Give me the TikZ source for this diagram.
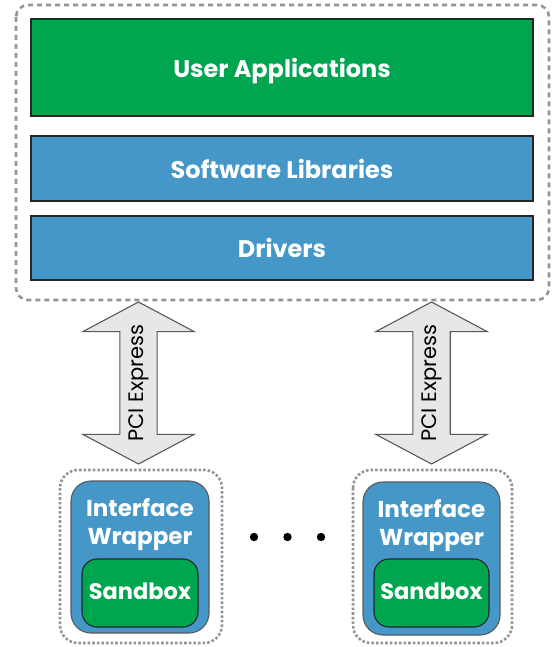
\documentclass[tikz,border=0pt]{standalone}
\usepackage{fontspec}
\setmainfont{Poppins}
\usetikzlibrary{shapes.arrows}

\definecolor{appgreen}{RGB}{0,165,80}
\definecolor{libblue}{RGB}{69,151,200}
\definecolor{pciefill}{RGB}{230,231,232}
\definecolor{pcieline}{RGB}{88,89,91}
\definecolor{hostgray}{RGB}{147,149,152}

\tikzset{
  layer/.style={draw=black!85, line width=1.2pt, text=white,
    font=\fontsize{24}{28}\bfseries, minimum width=502pt, inner sep=0pt,
    text height=19.8pt, text depth=0pt},
  pcie/.style={shape=double arrow, rotate=90, fill=pciefill, draw=pcieline,
    line width=1.1pt, double arrow head extend=37pt, double arrow tip angle=124,
    minimum height=162pt, inner xsep=0pt, inner ysep=8pt,
    font=\fontsize{21}{24}\selectfont},
  wrapper/.style={draw=pcieline, fill=libblue, line width=1.1pt,
    rounded corners=20pt, inner sep=0pt},
  sandbox/.style={draw=black!85, fill=appgreen, line width=1.1pt,
    rounded corners=15pt, text=white, font=\fontsize{22.5}{26}\bfseries, inner sep=0pt,
    text height=13pt, text depth=0pt},
  boxtext/.style={text=white, align=center, font=\fontsize{23}{27.5}\bfseries},
  fpga/.style={draw=hostgray, line width=2.6pt, dotted, rounded corners=18pt},
  host/.style={draw=hostgray, line width=2.6pt, dash pattern=on 5pt off 4pt,
    rounded corners=12pt}
}

\begin{document}
\begin{tikzpicture}[x=1pt, y=-1pt]
  \useasboundingbox (0,0) rectangle (551,647);

  % host side
  \draw[host] (16,5) rectangle (549,300);
  \node[layer, fill=appgreen, minimum height=97pt] (apps) at (282,67.5) {User Applications};
  \node[layer, fill=libblue, minimum height=65pt] (libs) at (282,168.5) {Software Libraries};
  \node[layer, fill=libblue, minimum height=64pt] (drv) at (282,248) {Drivers};

  % links
  \node[pcie] (linkA) at (138.5,383) {PCI Express};
  \node[pcie] (linkB) at (431.5,383) {PCI Express};

  % fpga side
  \draw[fpga] (60,470) rectangle (222,643);
  \draw[fpga] (353,470) rectangle (512,643);

  \node[wrapper, minimum width=138pt, minimum height=152pt] (wrapA) at (140,557) {};
  \node[wrapper, minimum width=137pt, minimum height=153pt] (wrapB) at (431.5,558.5) {};

  \node[boxtext] (wtxtA) at (140,524.7) {Interface\\Wrapper};
  \node[boxtext] (wtxtB) at (431.5,525.3) {Interface\\Wrapper};

  \node[sandbox, minimum width=116pt, minimum height=68pt] (sbA) at (140,593) {Sandbox};
  \node[sandbox, minimum width=115pt, minimum height=68pt] (sbB) at (431.5,593) {Sandbox};

  \fill (254,537) circle (4.2pt);
  \fill (287.5,537) circle (4.2pt);
  \fill (321,537) circle (4.2pt);
\end{tikzpicture}
\end{document}
